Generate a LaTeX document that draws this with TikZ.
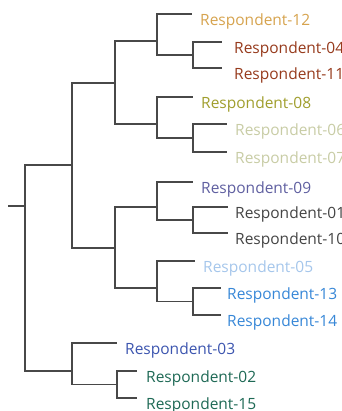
\documentclass[tikz,border=0pt]{standalone}
\usepackage{fontspec}
\setmainfont{Open Sans}
\usepackage{tikz}
\usetikzlibrary{positioning}
\definecolor{branchgray}{RGB}{72,72,72}
\definecolor{colA}{RGB}{214,163,78}
\definecolor{colB}{RGB}{150,58,28}
\definecolor{colC}{RGB}{160,158,45}
\definecolor{colD}{RGB}{200,204,165}
\definecolor{colE}{RGB}{95,95,160}
\definecolor{colF}{RGB}{68,68,68}
\definecolor{colG}{RGB}{165,198,235}
\definecolor{colH}{RGB}{55,135,215}
\definecolor{colI}{RGB}{60,85,175}
\definecolor{colJ}{RGB}{30,105,85}
\tikzset{branch/.style={draw=branchgray, line width=1.8pt},
  leaflabel/.style={inner sep=0pt, font=\fontsize{15.5}{18}\selectfont}}

\begin{document}
\begin{tikzpicture}[x=1pt,y=-1pt]
    \useasboundingbox (0,0) rectangle (341,411);
    %leaf ends
    \coordinate (l12) at (192,14);
    \coordinate (l04) at (222,42);
    \coordinate (l11) at (222,68);
    \coordinate (l08) at (193,97);
    \coordinate (l06) at (227,124);
    \coordinate (l07) at (227,152);
    \coordinate (l09) at (193,182);
    \coordinate (l01) at (228,207);
    \coordinate (l10) at (228,233);
    \coordinate (l05) at (195,261);
    \coordinate (l13) at (221,288);
    \coordinate (l14) at (221,315);
    \coordinate (l03) at (117,343);
    \coordinate (l02) at (137,371);
    \coordinate (l15) at (137,398);
    %cluster joins
    \coordinate (c0411) at (193,55);
    \coordinate (c120411) at (157,41.3);
    \coordinate (c0607) at (193,138);
    \coordinate (c080607) at (157,124.3);
    \coordinate (cup) at (115,82.8);
    \coordinate (c0110) at (193,220);
    \coordinate (c090110) at (157,207.3);
    \coordinate (c1314) at (193,301.5);
    \coordinate (c051314) at (157,288);
    \coordinate (clow) at (115,247.7);
    \coordinate (cmain) at (72,165.3);
    \coordinate (c0215) at (117,384.5);
    \coordinate (c030215) at (72,370.7);
    \coordinate (root) at (25,206.3);
    \coordinate (stub) at (8,206.3);
    %draws the branches
    \draw [branch] (stub) -- (root);
    \draw [branch] (root) |- (cmain);
    \draw [branch] (root) |- (c030215);
    \draw [branch] (cmain) |- (cup);
    \draw [branch] (cmain) |- (clow);
    \draw [branch] (cup) |- (c120411);
    \draw [branch] (cup) |- (c080607);
    \draw [branch] (c120411) |- (l12);
    \draw [branch] (c120411) |- (c0411);
    \draw [branch] (c0411) |- (l04);
    \draw [branch] (c0411) |- (l11);
    \draw [branch] (c080607) |- (l08);
    \draw [branch] (c080607) |- (c0607);
    \draw [branch] (c0607) |- (l06);
    \draw [branch] (c0607) |- (l07);
    \draw [branch] (clow) |- (c090110);
    \draw [branch] (clow) |- (c051314);
    \draw [branch] (c090110) |- (l09);
    \draw [branch] (c090110) |- (c0110);
    \draw [branch] (c0110) |- (l01);
    \draw [branch] (c0110) |- (l10);
    \draw [branch] (c051314) |- (l05);
    \draw [branch] (c051314) |- (c1314);
    \draw [branch] (c1314) |- (l13);
    \draw [branch] (c1314) |- (l14);
    \draw [branch] (c030215) |- (l03);
    \draw [branch] (c030215) |- (c0215);
    \draw [branch] (c0215) |- (l02);
    \draw [branch] (c0215) |- (l15);
    %labels the leaves
    \node (t12) [leaflabel, text=colA, below right=0pt and 8pt of l12] {Respondent-12};
    \node (t04) [leaflabel, text=colB, below right=0pt and 12pt of l04] {Respondent-04};
    \node (t11) [leaflabel, text=colB, below right=0pt and 12pt of l11] {Respondent-11};
    \node (t08) [leaflabel, text=colC, below right=0pt and 8pt of l08] {Respondent-08};
    \node (t06) [leaflabel, text=colD, below right=0pt and 8pt of l06] {Respondent-06};
    \node (t07) [leaflabel, text=colD, below right=0pt and 8pt of l07] {Respondent-07};
    \node (t09) [leaflabel, text=colE, below right=0pt and 8pt of l09] {Respondent-09};
    \node (t01) [leaflabel, text=colF, below right=0pt and 7pt of l01] {Respondent-01};
    \node (t10) [leaflabel, text=colF, below right=0pt and 7pt of l10] {Respondent-10};
    \node (t05) [leaflabel, text=colG, below right=0pt and 8pt of l05] {Respondent-05};
    \node (t13) [leaflabel, text=colH, below right=0pt and 6pt of l13] {Respondent-13};
    \node (t14) [leaflabel, text=colH, below right=0pt and 6pt of l14] {Respondent-14};
    \node (t03) [leaflabel, text=colI, below right=0pt and 8pt of l03] {Respondent-03};
    \node (t02) [leaflabel, text=colJ, below right=0pt and 9pt of l02] {Respondent-02};
    \node (t15) [leaflabel, text=colJ, below right=0pt and 9pt of l15] {Respondent-15};
\end{tikzpicture}
\end{document}
